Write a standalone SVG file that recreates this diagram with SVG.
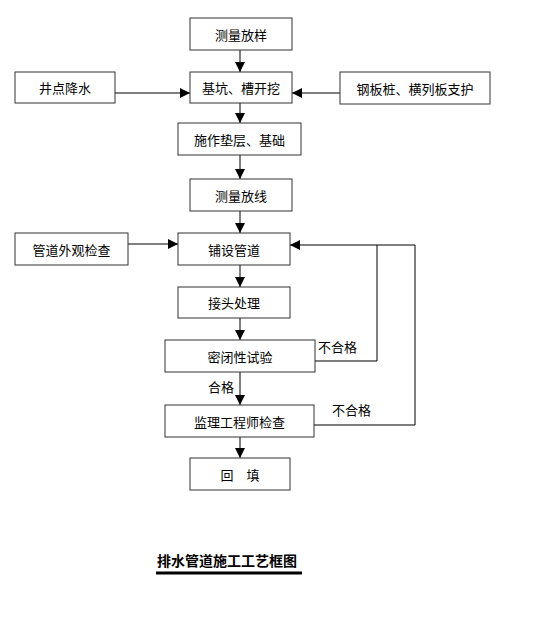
<svg xmlns="http://www.w3.org/2000/svg" width="555" height="623" viewBox="0 0 555 623">
<style>
.box{fill:#fff;stroke:#333;stroke-width:1}
.t{font-family:"Noto Sans CJK SC","Liberation Sans",sans-serif;font-size:13px;fill:#000;text-anchor:middle;dominant-baseline:central}
.l{font-family:"Noto Sans CJK SC","Liberation Sans",sans-serif;font-size:13px;fill:#000}
.c{fill:none;stroke:#000;stroke-width:1}
</style>
<defs>
<marker id="ah" viewBox="0 0 10 10" refX="10" refY="5" markerWidth="10" markerHeight="10" markerUnits="userSpaceOnUse" orient="auto">
<path d="M0,0 L10,5 L0,10 z" fill="#000"/>
</marker>
</defs>
<rect width="555" height="623" fill="#fff"/>
<g id="connectors">
<line class="c" x1="240" y1="50" x2="240" y2="72" marker-end="url(#ah)"/>
<line class="c" x1="115" y1="93" x2="190" y2="93" marker-end="url(#ah)"/>
<line class="c" x1="340" y1="93" x2="292" y2="93" marker-end="url(#ah)"/>
<line class="c" x1="240" y1="103" x2="240" y2="123" marker-end="url(#ah)"/>
<line class="c" x1="240" y1="155" x2="240" y2="179" marker-end="url(#ah)"/>
<line class="c" x1="240" y1="211" x2="240" y2="233" marker-end="url(#ah)"/>
<line class="c" x1="128" y1="244" x2="178" y2="244" marker-end="url(#ah)"/>
<line class="c" x1="240" y1="265" x2="240" y2="287" marker-end="url(#ah)"/>
<line class="c" x1="240" y1="318" x2="240" y2="340" marker-end="url(#ah)"/>
<line class="c" x1="240" y1="372" x2="240" y2="405" marker-end="url(#ah)"/>
<line class="c" x1="240" y1="437" x2="240" y2="458" marker-end="url(#ah)"/>
<polyline class="c" points="315,361 377,361 377,245"/>
<polyline class="c" points="314,425 415,425 415,245"/>
<line class="c" x1="415" y1="245" x2="290" y2="245" marker-end="url(#ah)"/>
<text class="l" x="318" y="352">不合格</text>
<text class="l" x="208" y="392">合格</text>
<text class="l" x="332" y="415">不合格</text>
</g>
<g id="n1"><rect class="box" x="190" y="18" width="102" height="32"/><text class="t" x="241" y="34">测量放样</text></g>
<g id="n2"><rect class="box" x="190" y="72" width="102" height="31"/><text class="t" x="241" y="87.5">基坑、槽开挖</text></g>
<g id="n3"><rect class="box" x="15" y="72" width="100" height="31"/><text class="t" x="65" y="87.5">井点降水</text></g>
<g id="n4"><rect class="box" x="340" y="72" width="150" height="32"/><text class="t" x="415" y="88">钢板桩、横列板支护</text></g>
<g id="n5"><rect class="box" x="178" y="123" width="123" height="32"/><text class="t" x="239.5" y="139">施作垫层、基础</text></g>
<g id="n6"><rect class="box" x="190" y="179" width="102" height="32"/><text class="t" x="241" y="195">测量放线</text></g>
<g id="n7"><rect class="box" x="15" y="233" width="113" height="32"/><text class="t" x="71.5" y="249">管道外观检查</text></g>
<g id="n8"><rect class="box" x="178" y="233" width="112" height="32"/><text class="t" x="234" y="249">铺设管道</text></g>
<g id="n9"><rect class="box" x="178" y="287" width="112" height="31"/><text class="t" x="234" y="302.5">接头处理</text></g>
<g id="n10"><rect class="box" x="165" y="340" width="150" height="32"/><text class="t" x="240" y="356">密闭性试验</text></g>
<g id="n11"><rect class="box" x="165" y="405" width="149" height="32"/><text class="t" x="239.5" y="421">监理工程师检查</text></g>
<g id="n12"><rect class="box" x="190" y="458" width="100" height="32"/><text class="t" x="240" y="474">回　填</text></g>
<g id="title">
<text class="l" x="157" y="566" style="font-size:14px;font-weight:bold">排水管道施工工艺框图</text>
<line x1="156" y1="573" x2="302" y2="573" stroke="#000" stroke-width="3"/>
</g>
</svg>
